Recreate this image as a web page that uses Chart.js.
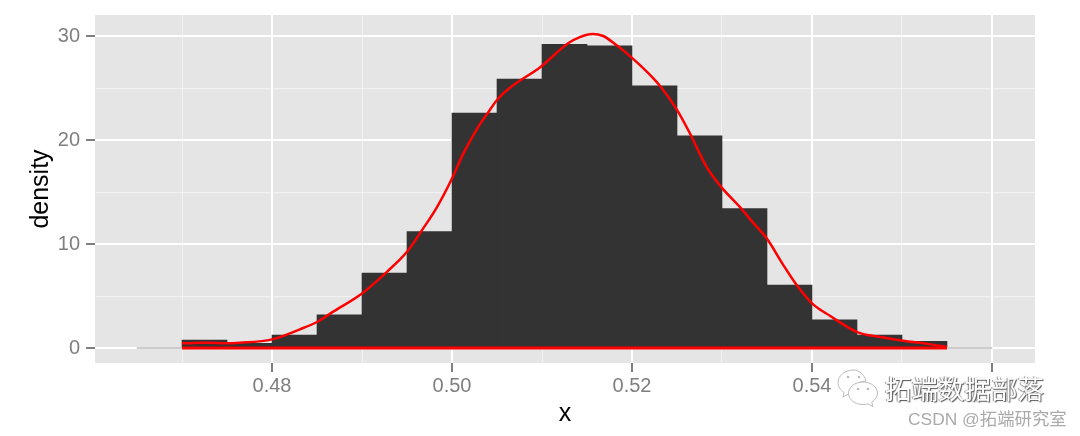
<!DOCTYPE html>
<html>
<head>
<meta charset="utf-8">
<script src="https://cdn.jsdelivr.net/npm/chart.js@4"></script>
<style>
    html, body { margin: 0; padding: 0; background: #fff; }
    #wrap { position: relative; width: 1080px; height: 436px; overflow: hidden; }
    .mark { position: absolute; white-space: nowrap; }
    #mark1 { left: 885px; top: 370px; font: 26.5px "Noto Sans CJK SC"; line-height: 36px; color: #fff;
             text-shadow: 1px 1px 1px #555, -1px 0 1px #888; }
    #mark2 { left: 908px; top: 408px; font: 17.4px "Liberation Sans", "Noto Sans CJK SC"; line-height: 22px; color: #aaa; }
    #icon { position: absolute; left: 836px; top: 368px; }
</style>
</head>
<body>
<div id="wrap">
    <canvas id="histChart" width="1080" height="436"></canvas>
    <svg id="icon" width="44" height="40" viewBox="0 0 44 40">
        <path d="M18 2C9 2 2 7.500 2 14.500c0 4 2.300 7.500 6 9.800L7 29l5-2.800c1.500.4 3 .6 4.500.6C14 21 20 13.500 30 13 28 6.500 23 2 18 2z" fill="#fff" stroke="#bbb" stroke-width="1"/>
        <path d="M27 14c-8 0-14.500 5-14.500 11.300S19 36.500 27 36.500c1.700 0 3.300-.3 4.800-.7l5.200 2.700-1.300-4.500c3.500-2 5.800-5.200 5.800-8.700C41.500 19 35 14 27 14z" fill="#fff" stroke="#bbb" stroke-width="1"/>
        <circle cx="12" cy="9" r="1.300" fill="#bbb"/><circle cx="23" cy="9" r="1.300" fill="#bbb"/>
        <circle cx="22" cy="21" r="1.300" fill="#bbb"/><circle cx="32" cy="21" r="1.300" fill="#bbb"/>
    </svg>
    <div class="mark" id="mark1">拓端数据部落</div>
    <div class="mark" id="mark2">CSDN @拓端研究室</div>
</div>

<script>
// histogram bins (bin centres, width 0.005)
const binCenters = [0.4675, 0.4725, 0.4775, 0.4825, 0.4875, 0.4925, 0.4975, 0.5025, 0.5075,
    0.5125, 0.5175, 0.5225, 0.5275, 0.5325, 0.5375, 0.5425, 0.5475, 0.5525, 0.5575];
const binDensity = [0, 0.77, 0.45, 1.25, 3.2, 7.2, 11.2, 22.6, 25.85,
    29.2, 29.05, 25.2, 20.4, 13.4, 6.05, 2.7, 1.25, 0.65, 0];

// density curve
const densityX = [0.47, 0.4726, 0.475, 0.4764, 0.48, 0.4831, 0.485, 0.4868, 0.49, 0.4928, 0.495,
    0.4968, 0.4983, 0.5, 0.5012, 0.5028, 0.5039, 0.505, 0.5064, 0.5098, 0.5129, 0.5142, 0.5156, 0.5168,
    0.5183, 0.52, 0.5223, 0.5233, 0.525, 0.5264, 0.5283, 0.53, 0.532, 0.5334, 0.535, 0.5368, 0.5383,
    0.54, 0.542, 0.5451, 0.5476, 0.5501, 0.5528, 0.555];
const densityY = [0.45, 0.5, 0.45, 0.5, 0.83, 1.8, 2.5, 3.5, 5.25, 7.35, 9.25,
    11.5, 13.5, 16.3, 18.6, 21.1, 22.5, 23.85, 25, 27, 29.3, 29.9, 30.2, 30,
    29.1, 27.9, 26, 25, 22.9, 20.7, 17.4, 15.4, 13.55, 12.1, 10.5, 8, 6.05,
    4.3, 3.1, 1.5, 1.05, 0.7, 0.4, 0.1];
const baselineX = [0.47, 0.555];
const baselineY = [0, 0];

// axes
const xTicks = [0.47, 0.48, 0.49, 0.5, 0.51, 0.52, 0.53, 0.54, 0.55, 0.56];
const xMajor = [0.48, 0.5, 0.52, 0.54, 0.56];
const xLabels = ['0.48', '0.50', '0.52', '0.54', ''];
const yTicks = [0, 5, 10, 15, 20, 25, 30];
const yMajor = [0, 10, 20, 30];

const fontName = '"Liberation Sans", Arial, sans-serif';

const panelBg = {
    id: 'panelBg',
    beforeDraw(chart) {
        const a = chart.chartArea;
        chart.ctx.save();
        chart.ctx.fillStyle = '#e5e5e5';
        chart.ctx.fillRect(a.left, a.top, a.right - a.left, a.bottom - a.top);
        chart.ctx.restore();
    }
};

function isMajor(list, v) {
    return list.some(m => Math.abs(m - v) < 1e-6);
}

function gridFor(list) {
    return {
        color: c => isMajor(list, c.tick.value) ? '#ffffff' : 'rgba(255,255,255,0.5)',
        lineWidth: c => isMajor(list, c.tick.value) ? 2 : 1,
        tickColor: c => isMajor(list, c.tick.value) ? '#7f7f7f' : 'rgba(0,0,0,0)',
        tickWidth: 2,
        tickLength: 9,
        offset: false
    };
}

new Chart(document.getElementById('histChart'), {
    data: {
        datasets: [
            {
                type: 'line',
                data: densityX.map((x, i) => ({ x: x, y: densityY[i] })),
                borderColor: '#ff0000',
                borderWidth: 2.5,
                pointRadius: 0,
                cubicInterpolationMode: 'monotone',
                order: 1
            },
            {
                type: 'line',
                data: baselineX.map((x, i) => ({ x: x, y: baselineY[i] })),
                borderColor: '#ff0000',
                borderWidth: 2.8,
                pointRadius: 0,
                order: 1
            },
            {
                type: 'bar',
                data: binCenters.map((x, i) => ({ x: x, y: binDensity[i] })),
                backgroundColor: binDensity.map(v => v === 0 ? '#bbbbbb' : '#333333'),
                barPercentage: 1,
                categoryPercentage: 1,
                minBarLength: 1,
                order: 2
            }
        ]
    },
    options: {
        responsive: false,
        animation: false,
        layout: { padding: { top: 15, right: 45, left: 0, bottom: 0 } },
        plugins: { legend: { display: false }, tooltip: { enabled: false } },
        scales: {
            x: {
                type: 'linear',
                offset: false,
                min: 0.46033,
                max: 0.56478,
                afterBuildTicks: s => { s.ticks = xTicks.map(v => ({ value: v })); },
                afterFit: s => { s.height = 73; s.paddingLeft = 0; s.paddingRight = 0; },
                border: { display: false },
                grid: gridFor(xMajor),
                ticks: {
                    autoSkip: false,
                    maxRotation: 0,
                    padding: 2,
                    color: '#7f7f7f',
                    font: { family: fontName, size: 20 },
                    callback: v => {
                        const i = xMajor.findIndex(m => Math.abs(m - v) < 1e-6);
                        return i < 0 ? '' : xLabels[i];
                    }
                },
                title: {
                    display: true,
                    text: 'x',
                    color: '#000',
                    font: { family: fontName, size: 25 },
                    padding: { top: 0, bottom: 7 }
                }
            },
            y: {
                min: -1.44,
                max: 32.02,
                afterBuildTicks: s => { s.ticks = yTicks.map(v => ({ value: v })); },
                afterFit: s => { s.width = 95; s.paddingTop = 0; s.paddingBottom = 0; },
                border: { display: false },
                grid: gridFor(yMajor),
                ticks: {
                    autoSkip: false,
                    padding: 6,
                    color: '#7f7f7f',
                    font: { family: fontName, size: 20 },
                    callback: v => isMajor(yMajor, v) ? String(v) : ''
                },
                title: {
                    display: true,
                    text: 'density',
                    color: '#000',
                    font: { family: fontName, size: 25 },
                    padding: { top: 26, bottom: 0 }
                }
            }
        }
    },
    plugins: [panelBg]
});
</script>
</body>
</html>
